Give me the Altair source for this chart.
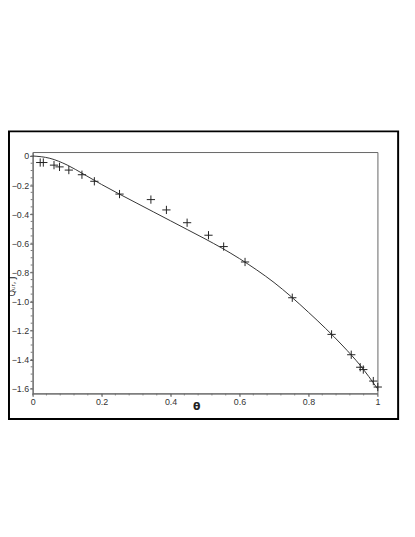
import altair as alt
import pandas as pd

# measured points (theta, Q)
pt_theta = [0.022, 0.031, 0.062, 0.078, 0.105, 0.143, 0.179, 0.252, 0.343, 0.388,
            0.448, 0.510, 0.554, 0.616, 0.753, 0.867, 0.924, 0.950, 0.959, 0.988, 1.001]
pt_q = [-0.045, -0.045, -0.063, -0.075, -0.097, -0.129, -0.174, -0.262, -0.300, -0.371,
        -0.459, -0.545, -0.623, -0.729, -0.975, -1.227, -1.367, -1.453, -1.469, -1.548, -1.589]

# model curve
cv_theta = [0, 0.05, 0.1, 0.15, 0.2, 0.25, 0.3, 0.35, 0.4, 0.45, 0.5, 0.55, 0.6,
            0.65, 0.7, 0.75, 0.8, 0.85, 0.9, 0.95, 1.0]
cv_q = [0, -0.016, -0.062, -0.128, -0.196, -0.26, -0.322, -0.384, -0.446, -0.508, -0.57,
        -0.635, -0.706, -0.784, -0.87, -0.968, -1.075, -1.187, -1.307, -1.44, -1.6]

x_ticks = [0, 0.2, 0.4, 0.6, 0.8, 1.0]
y_ticks = [0, -0.2, -0.4, -0.6, -0.8, -1.0, -1.2, -1.4, -1.6]
x_minor = [round(i * 0.04, 2) for i in range(26)]
y_minor = [round(-i * 0.05, 2) for i in range(33)]

pts = pd.DataFrame({"theta": pt_theta, "q": pt_q})
cv = pd.DataFrame({"theta": cv_theta, "q": cv_q})

xs = alt.Scale(domain=[0, 1], nice=False, zero=False)
ys = alt.Scale(domain=[-1.633, 0.027], nice=False, zero=False)

lab = dict(labelFont="Liberation Sans", labelFontSize=9, labelColor="#333",
           tickColor="#555", domainColor="#666", grid=False,
           labelOverlap=False, labelFlush=False)

xax = alt.Axis(values=x_ticks, title="θ", tickSize=3, labelPadding=1,
               labelExpr="datum.value == 0 ? '0' : datum.value == 1 ? '1' : format(datum.value, '.1f')",
               titleFont="DejaVu Sans", titleFontSize=11, titleFontWeight="bold",
               titleColor="#222", titleX=166, titleY=13, titleBaseline="middle", **lab)
yax = alt.Axis(values=y_ticks, title="Qᵤᵣ, J", tickSize=3, labelPadding=1,
               labelExpr="datum.value == 0 ? '0' : replace(format(datum.value, '.1f'), '-', '\u2212')",
               titleFont="DejaVu Sans", titleFontSize=8.5, titleFontWeight="normal",
               titleColor="#222", titleAngle=270, titleX=-21, titleY=136,
               titleBaseline="middle", titleAlign="center", **lab)

curve = alt.Chart(cv).mark_line(color="#333", strokeWidth=1, interpolate="monotone").encode(
    x=alt.X("theta:Q", scale=xs, axis=xax, title="θ"),
    y=alt.Y("q:Q", scale=ys, axis=yax, title="Qᵤᵣ, J"),
)

marks = alt.Chart(pts).mark_point(
    shape="M-1,0L1,0M0,-1L0,1", size=70, filled=False, stroke="#222", strokeWidth=1, opacity=1
).encode(
    x=alt.X("theta:Q", scale=xs, axis=xax, title="θ"),
    y=alt.Y("q:Q", scale=ys, axis=yax, title="Qᵤᵣ, J"),
)

minor_x = alt.Chart(pd.DataFrame({"theta": x_minor})).mark_rule(
    color="#777", strokeWidth=1, clip=False
).encode(
    x=alt.X("theta:Q", scale=xs, axis=xax, title="θ"), y=alt.value(245), y2=alt.value(247)
)
minor_y = alt.Chart(pd.DataFrame({"q": y_minor})).mark_rule(
    color="#777", strokeWidth=1, clip=False
).encode(
    y=alt.Y("q:Q", scale=ys, axis=yax, title="Qᵤᵣ, J"), x=alt.value(0), x2=alt.value(-2)
)

frame = alt.Chart(pd.DataFrame({"a": [0]})).mark_rect(
    fill=None, stroke="black", strokeWidth=2, clip=False
).encode(
    x=alt.value(-24), x2=alt.value(371), y=alt.value(-21), y2=alt.value(271)
)

chart = alt.layer(curve, marks, minor_x, minor_y, frame).properties(
    width=350, height=245,
    padding={"left": 25, "top": 143, "right": 30, "bottom": 40},
    autosize=alt.AutoSizeParams(type="none"),
).configure_view(stroke="#666", strokeWidth=1)

chart.save("out.html", embed_options={"renderer": "svg", "actions": False})
